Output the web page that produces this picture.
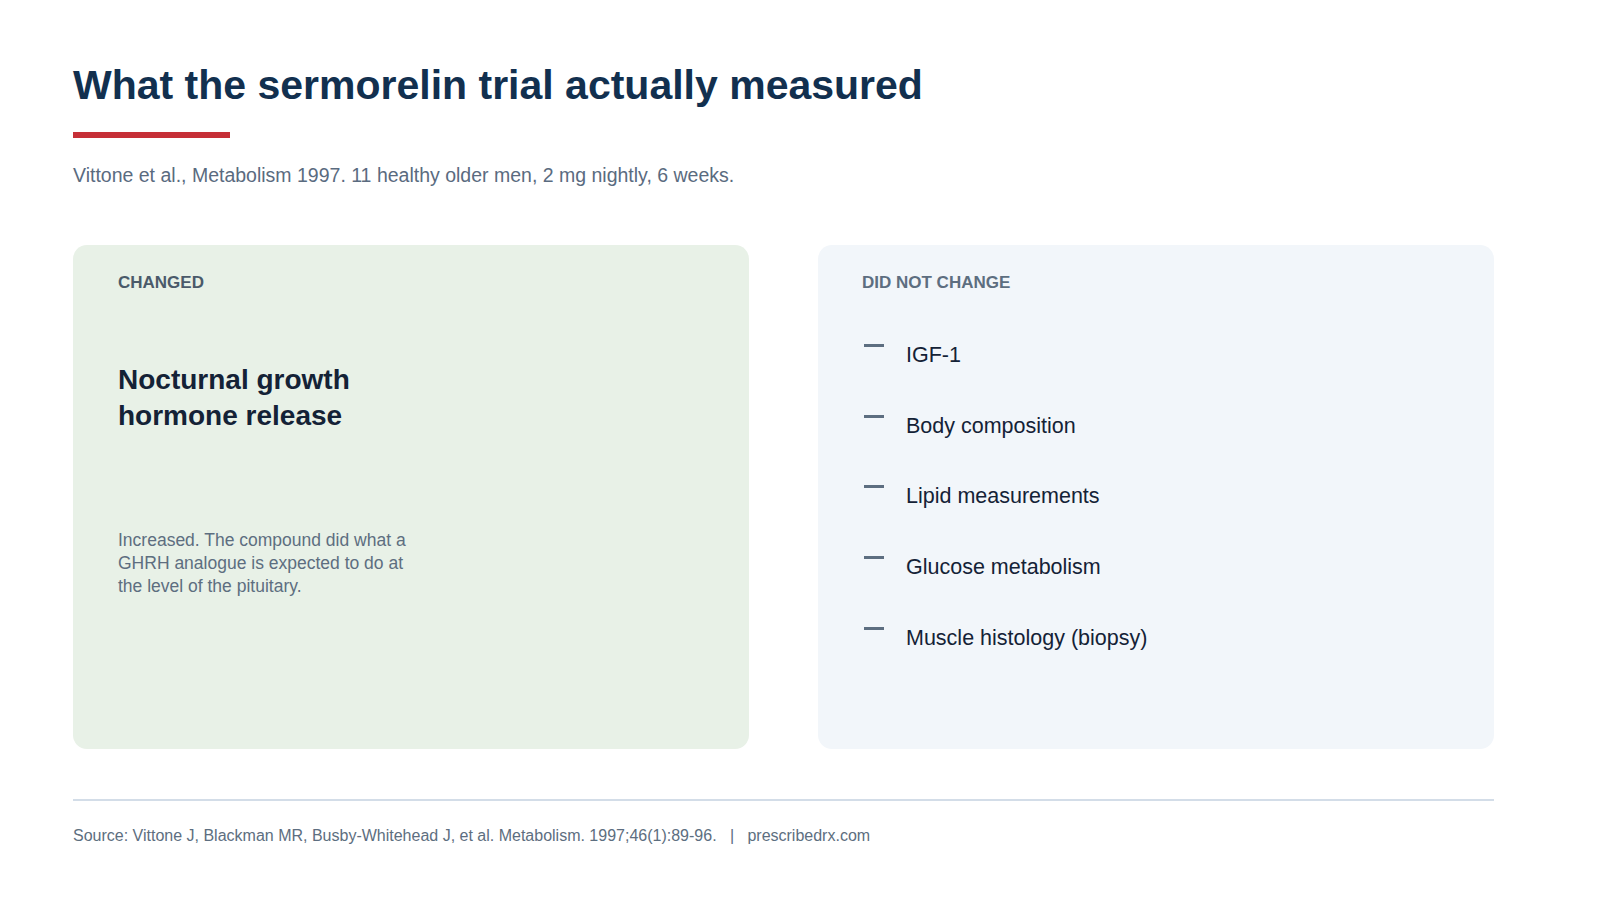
<!DOCTYPE html>
<html><head><meta charset="utf-8">
<script src="https://cdn.jsdelivr.net/npm/chart.js@4"></script>
<style>
body{margin:0;width:1600px;height:900px;background:#fff;font-family:"Liberation Sans",Arial,sans-serif;position:relative;overflow:hidden}
.a{position:absolute;white-space:nowrap}
</style></head><body>
<script>
const title = "What the sermorelin trial actually measured";
const subtitle = "Vittone et al., Metabolism 1997.  11 healthy older men, 2 mg nightly, 6 weeks.";
const changedLabel = "CHANGED";
const changedHeading = ["Nocturnal growth", "hormone release"];
const changedBody = ["Increased. The compound did what a", "GHRH analogue is expected to do at", "the level of the pituitary."];
const unchangedLabel = "DID NOT CHANGE";
const unchangedItems = ["IGF-1", "Body composition", "Lipid measurements", "Glucose metabolism", "Muscle histology (biopsy)"];
const source = "Source: Vittone J, Blackman MR, Busby-Whitehead J, et al. Metabolism. 1997;46(1):89-96.   |   prescribedrx.com";
</script>
<div class="a" style="left:73px;top:62px;font-size:41px;font-weight:bold;color:#12304f" id="t"></div>
<div class="a" style="left:73px;top:132px;width:157px;height:6px;background:#c62f37"></div>
<div class="a" style="left:73px;top:164px;font-size:19.5px;color:#5a6b7f" id="s"></div>
<div class="a" style="left:73px;top:245px;width:676px;height:504px;border-radius:14px;background:#e8f1e7"></div>
<div class="a" style="left:818px;top:245px;width:676px;height:504px;border-radius:14px;background:#f2f6fa"></div>
<div class="a" style="left:118px;top:273px;font-size:17px;font-weight:bold;color:#4a5a6a" id="cl"></div>
<div class="a" style="left:118px;top:362px;font-size:28px;font-weight:bold;color:#142236;line-height:36px" id="ch"></div>
<div class="a" style="left:118px;top:529px;font-size:17.5px;color:#5d6e80;line-height:23px" id="cb"></div>
<div class="a" style="left:862px;top:273px;font-size:17px;font-weight:bold;color:#5d6e80" id="ul"></div>
<div id="list"></div>
<div class="a" style="left:73px;top:799px;width:1421px;height:2px;background:#d3dde8"></div>
<div class="a" style="left:73px;top:827px;font-size:16px;color:#5d6e80;white-space:pre" id="src"></div>
<canvas id="c" width="1" height="1" style="position:absolute;left:0;top:0;width:1px;height:1px"></canvas>
<script>
document.getElementById('t').textContent=title;
document.getElementById('s').textContent=subtitle;
document.getElementById('cl').textContent=changedLabel;
document.getElementById('ch').innerHTML=changedHeading.join('<br>');
document.getElementById('cb').innerHTML=changedBody.join('<br>');
document.getElementById('ul').textContent=unchangedLabel;
document.getElementById('src').textContent=source;
const L=document.getElementById('list');
unchangedItems.forEach((it,i)=>{
  const y=345+i*70.7;
  L.insertAdjacentHTML('beforeend',`<div class="a" style="left:864px;top:${y-1}px;width:20px;height:3px;background:#5d6e80"></div><div class="a" style="left:906px;top:${y-2}px;font-size:21.5px;color:#142236">${it}</div>`);
});
</script>
</body></html>
